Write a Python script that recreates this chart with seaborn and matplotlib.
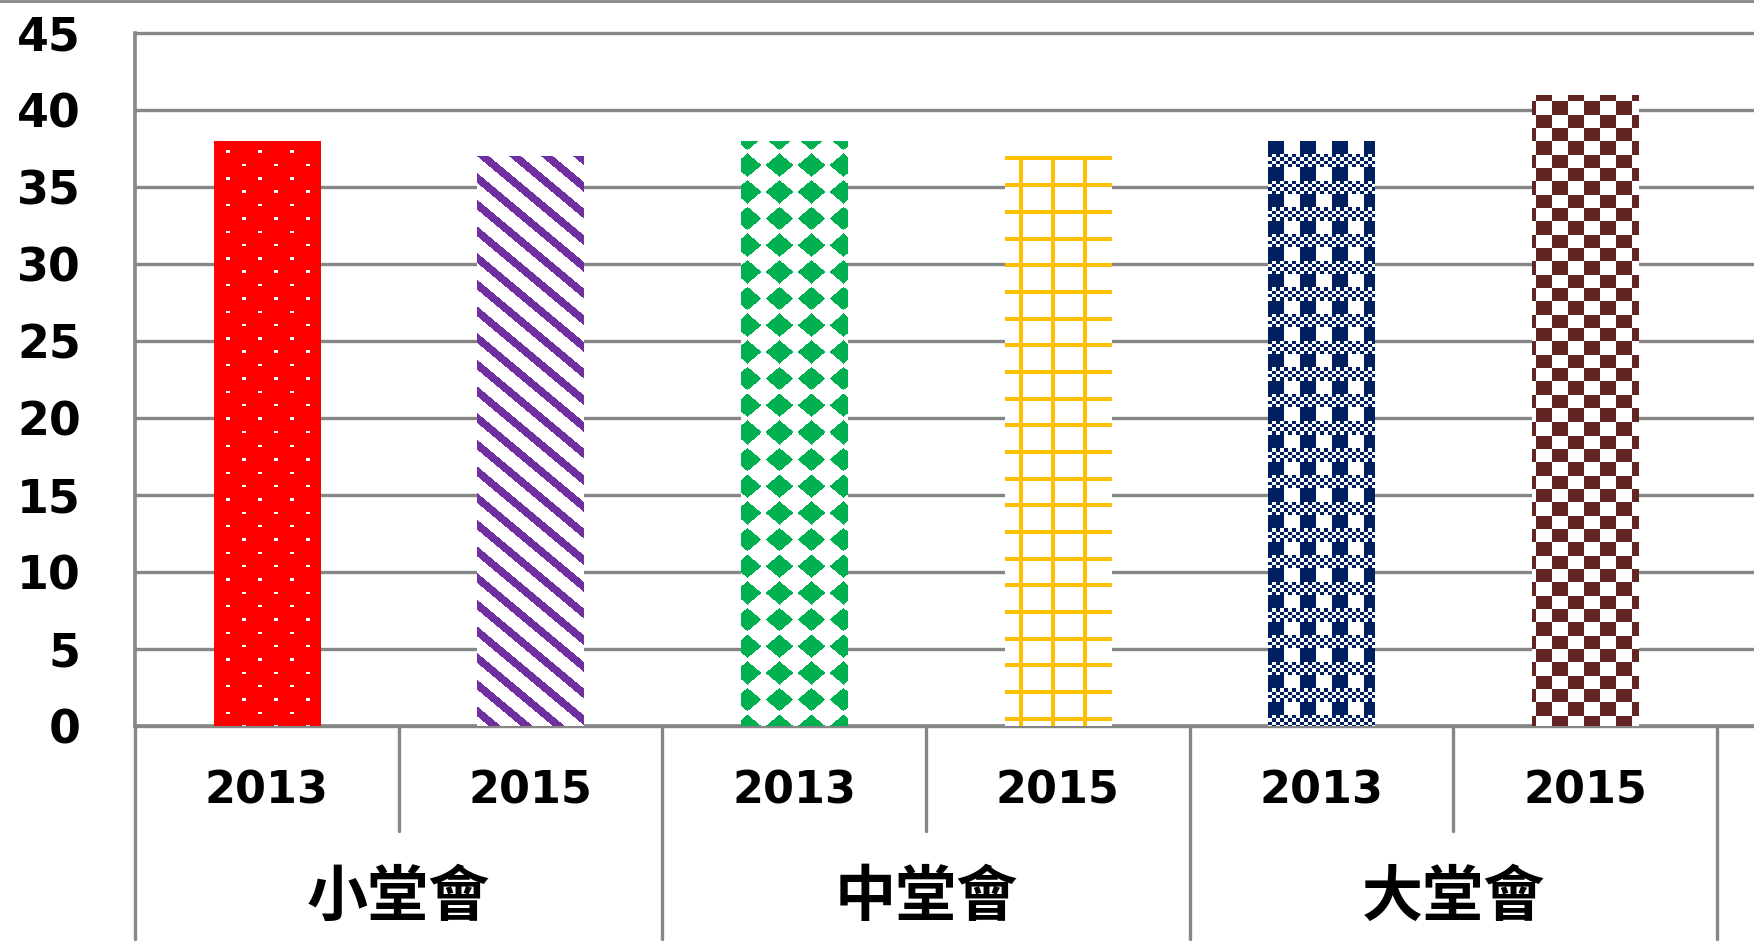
import numpy as np
import pandas as pd
import seaborn as sns
import matplotlib
matplotlib.use("Agg")
import matplotlib.pyplot as plt
import matplotlib.transforms as mtransforms
from matplotlib.colors import ListedColormap
from matplotlib.lines import Line2D

# data
groups = ['小堂會', '中堂會', '大堂會']
years = ['2013', '2015']
values = [38, 37, 38, 37, 38, 41]

bar_keys = [f"{g}_{y}" for g in groups for y in years]
year_labels = [y for g in groups for y in years]
df = pd.DataFrame({'bar': bar_keys, 'value': values})

GRID = '#868686'
PX, PY = 32, 26.67  # pattern tile size in pixels (8x8 cells)


# fill patterns, u = pixel column from bar left, v = pixel row from bar top
def dots(u, v):
    a = ((v - 10) % PY < 2.5) & ((u - 12) % PX < 3.3)
    b = ((v - 23.3) % PY < 2.5) & ((u - 28) % PX < 3.3)
    return a | b


def stripes(u, v):
    return (u - 1.2 * v) % PX < 12


def diamonds(u, v):
    du = (u - 6 + PX / 2) % PX - PX / 2
    dv = (v + 2 + PY / 2) % PY - PY / 2
    return np.abs(du) / 14 + np.abs(dv) / 11.7 <= 1


def grid(u, v):
    return (v % PY < 4) | ((u - 14) % PX < 4)


def navy_checks(u, v):
    iu = (u // (PX / 8)).astype(int)
    iv = (v // (PY / 8)).astype(int)
    return np.where(iv % 8 < 4, iu % 8 < 4, (iu + iv) % 2 == 0)


def checks(u, v):
    cu = np.floor((u - 3.7) / (PX / 2))
    cv = np.floor((v - 6.7) / (PY / 2))
    return (cu + cv) % 2 == 1


# (background, foreground, pattern) per bar
styles = [('#FF0000', 'white', dots),
          ('white', '#7030A0', stripes),
          ('white', '#00B050', diamonds),
          ('white', '#FFC000', grid),
          ('white', '#002060', navy_checks),
          ('white', '#632523', checks)]

sns.set_theme(style='white')
plt.rcParams['font.family'] = ['DejaVu Sans', 'Noto Sans CJK TC']

fig, ax = plt.subplots(figsize=(17.54, 9.46), dpi=100)
fig.subplots_adjust(left=0.077, right=1.0, top=0.9651, bottom=0.2326)

sns.barplot(data=df, x='bar', y='value', order=bar_keys, color='white',
            saturation=1, width=0.405, errorbar=None, linewidth=0, ax=ax)
ax.set_xlim(-0.5, 5.64)
ax.set_ylim(0, 45)

# paint the patterns into each bar
for bar, (bg, fg, func) in zip(ax.patches, styles):
    x0, y0, w, h = bar.get_x(), bar.get_y(), bar.get_width(), bar.get_height()
    (px0, py0), (px1, py1) = ax.transData.transform([(x0, y0), (x0 + w, y0 + h)])
    nx, ny = int(round(px1 - px0)), int(round(py1 - py0))
    v, u = np.mgrid[0:ny, 0:nx]
    tex = func(u.astype(float), v.astype(float)).astype(int)
    im = ax.imshow(tex, cmap=ListedColormap([bg, fg]), vmin=0, vmax=1,
                   extent=(x0, x0 + w, y0, y0 + h), origin='upper',
                   interpolation='nearest', aspect='auto', zorder=3)
    im.set_clip_path(bar)

ax.set_xlim(-0.5, 5.64)
ax.set_ylim(0, 45)

# axes styling
ax.set_yticks(range(0, 46, 5))
ax.yaxis.grid(True, color=GRID, linewidth=2.4)
ax.xaxis.grid(False)
ax.set_axisbelow(True)
for line in ax.get_ygridlines():
    line.set_clip_on(False)
for s in ['top', 'right']:
    ax.spines[s].set_visible(False)
for s in ['left', 'bottom']:
    ax.spines[s].set_color(GRID)
    ax.spines[s].set_linewidth(2.6)
ax.tick_params(axis='y', length=16, width=2.4, color=GRID, pad=23,
               labelsize=33, labelcolor='black')
for t in ax.get_yticklabels():
    t.set_fontweight('bold')
ax.set_xticks([])
ax.set_xlabel('')
ax.set_ylabel('')

# two-level category axis
trans = mtransforms.blended_transform_factory(ax.transData, ax.transAxes)
for i, lab in enumerate(year_labels):
    ax.text(i, -0.094, lab, transform=trans, ha='center', va='center',
            fontsize=32, fontweight='bold', color='black')
for j, g in enumerate(groups):
    ax.text(2 * j + 0.5, -0.248, g, transform=trans, ha='center', va='center',
            fontsize=44, fontweight='bold', color='black',
            family=['Noto Sans CJK TC', 'DejaVu Sans'])

for k in range(len(bar_keys) + 1):
    low = -0.307 if k % 2 == 0 else -0.152
    ax.add_line(Line2D([k - 0.5, k - 0.5], [0, low], transform=trans,
                       color=GRID, lw=2.4, clip_on=False))

# chart border at the very top
fig.add_artist(Line2D([0, 1], [0.999, 0.999], transform=fig.transFigure,
                      color=GRID, lw=2))

fig.savefig('out.png', dpi=100)
